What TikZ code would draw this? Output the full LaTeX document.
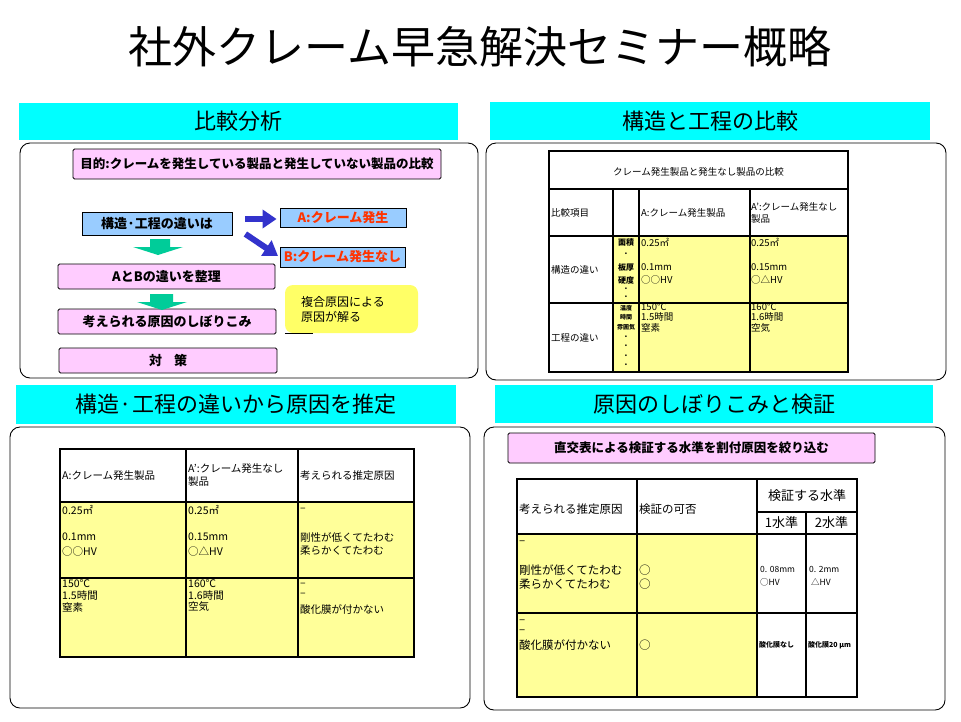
\documentclass[tikz,border=0pt]{standalone}
\usepackage{fontspec}
\setmainfont{Noto Sans CJK JP}
\usetikzlibrary{arrows.meta}
\definecolor{hdrcyan}{HTML}{00FFFF}
\definecolor{boxpink}{HTML}{FFCCFF}
\definecolor{boxblue}{HTML}{99CCFF}
\definecolor{blockgreen}{HTML}{00CC99}
\definecolor{arrowblue}{HTML}{3333CC}
\definecolor{redtext}{HTML}{FF3300}
\definecolor{tyellow}{HTML}{FFFF99}
\definecolor{cyellow}{HTML}{FFFF66}
\begin{document}
\begin{tikzpicture}[x=1pt,y=-1pt,
  hdr/.style={fill=hdrcyan, draw=none, inner sep=0, font=\fontsize{22}{24}\selectfont},
  panel/.style={draw=black, line width=0.9pt, rounded corners=10pt, inner sep=0},
  pinkbox/.style={draw=black, line width=0.8pt, fill=boxpink, rounded corners=1.5pt, inner sep=0, font=\bfseries\fontsize{12.5}{14}\selectfont},
  bluebox/.style={draw=black, line width=0.8pt, fill=boxblue, inner sep=0, font=\bfseries\fontsize{13}{15}\selectfont},
  greenarrow/.style={fill=blockgreen, draw=none},
  bluearrow/.style={draw=arrowblue, line width=6pt, -{Triangle[width=18pt,length=14pt]}},
  tline/.style={line width=1.5pt},
  tthick/.style={line width=2.2pt},
  celA/.style={anchor=west, inner sep=0, font=\fontsize{9.5}{11}\selectfont},
  celS/.style={anchor=center, inner sep=0, font=\bfseries\fontsize{8}{9}\selectfont},
  celT/.style={anchor=center, inner sep=0, font=\bfseries\fontsize{6}{7}\selectfont},
  celB/.style={anchor=west, inner sep=0, font=\fontsize{10.5}{12}\selectfont},
  celC/.style={anchor=west, inner sep=0, font=\fontsize{11.5}{13}\selectfont},
  celN/.style={anchor=west, inner sep=0, font=\fontsize{8.5}{10}\selectfont},
  celM/.style={anchor=west, inner sep=0, font=\bfseries\fontsize{7}{8}\selectfont}
]
\useasboundingbox (0,0) rectangle (961,721);
\fill[white] (0,0) rectangle (961,721);

% title
\node[inner sep=0, font=\fontsize{44}{48}\selectfont] (title) at (480,47) {社外クレーム早急解決セミナー概略};

% panels
\node[panel, minimum width=458pt, minimum height=235pt] (p1) at (249,260.5) {};
\node[panel, minimum width=460pt, minimum height=237pt] (p2) at (716,261.5) {};
\node[panel, minimum width=460pt, minimum height=281pt] (p3) at (240,567.5) {};
\node[panel, minimum width=461pt, minimum height=283pt] (p4) at (714.5,568.5) {};

% headers
\node[hdr, minimum width=439pt, minimum height=37pt] (h1) at (238.5,121.5) {比較分析};
\node[hdr, minimum width=440pt, minimum height=38pt] (h2) at (710,121) {構造と工程の比較};
\node[hdr, minimum width=440pt, minimum height=39pt] (h3) at (236,404.5) {構造·工程の違いから原因を推定};
\node[hdr, minimum width=438pt, minimum height=38pt] (h4) at (714,404) {原因のしぼりこみと検証};

% ---------- top-left panel ----------
\node[pinkbox, minimum width=368pt, minimum height=30pt] (goal) at (257,164) {目的:クレームを発生している製品と発生していない製品の比較};
\node[bluebox, minimum width=150pt, minimum height=23pt] (kozo) at (157,223.5) {構造·工程の違いは};
\node[pinkbox, minimum width=217pt, minimum height=25pt, font=\bfseries\fontsize{13}{15}\selectfont] (ab) at (166.5,276.5) {AとBの違いを整理};
\node[pinkbox, minimum width=218pt, minimum height=25pt, font=\bfseries\fontsize{13}{15}\selectfont] (narrow) at (167,321.5) {考えられる原因のしぼりこみ};
\node[pinkbox, minimum width=218pt, minimum height=25pt, font=\bfseries\fontsize{13}{15}\selectfont] (taisaku) at (168,360.5) {対\hspace{12pt}策};
\node[bluebox, minimum width=126pt, minimum height=19pt, text=redtext] (boxA) at (343,217.5) {A:クレーム発生};
\node[bluebox, minimum width=125pt, minimum height=20pt, text=redtext] (boxB) at (342.5,257) {B:クレーム発生なし};
\node[fill=cyellow, rounded corners=8pt, minimum width=133pt, minimum height=48pt, inner sep=0] (callout) at (351.5,309) {};
\node[anchor=west, inner sep=0, align=left, font=\fontsize{12}{15}\selectfont] (callouttxt) at (301,309.5) {複合原因による\\原因が解る};
\draw[line width=0.8pt] (callout.south west) -- ++(28,0);

% green block arrows
\fill[greenarrow] (150,239) -- (170,239) -- (170,247) -- (183,247) -- (158,255) -- (133,247) -- (150,247) -- cycle;
\fill[greenarrow] (150,294) -- (173,294) -- (173,302) -- (187,302) -- (162,310) -- (137,302) -- (150,302) -- cycle;

% blue arrows
\draw[bluearrow, shorten >=3pt] ([xshift=13pt,yshift=4.5pt]kozo.east) -- (boxA.west |- 0,219);
\draw[bluearrow, shorten >=2pt] ([xshift=13pt,yshift=-10.5pt]kozo.east) -- (boxB.west);

% ---------- top-right table ----------
\fill[tyellow] (613,236) rectangle (848,372);
\draw[tline] (549,151) rectangle (848,372);
\draw[tline] (549,189) -- (848,189);
\draw[tline] (549,236) -- (848,236);
\draw[tthick] (549,303) -- (848,303);
\draw[tline] (613,189) -- (613,372);
\draw[tline] (639,189) -- (639,372);
\draw[tthick] (750,189) -- (750,372);

\node[inner sep=0, font=\fontsize{9.5}{11}\selectfont] (r0) at (698.5,172) {クレーム発生製品と発生なし製品の比較};
\node[celA] (r1) at (551,213) {比較項目};
\node[celA] (r2) at (641,213) {A:クレーム発生製品};
\node[celA] (r3) at (751,207) {A’:クレーム発生なし};
\node[celA] (r4) at (751,219) {製品};
\node[celA] (r5) at (551,270) {構造の違い};
\node[celS] (r6) at (626,242) {面積};
\node[celS] (r7) at (626,254) {.};
\node[celS] (r8) at (626,267) {板厚};
\node[celS] (r9) at (626,280) {硬度};
\node[celS] (r10) at (626,289) {.};
\node[celS] (r11) at (626,297) {.};
\node[celA] (r12) at (641,242) {0.25㎡};
\node[celA] (r13) at (641,267) {0.1mm};
\node[celA] (r14) at (641,280) {○○HV};
\node[celA] (r15) at (751,242) {0.25㎡};
\node[celA] (r16) at (751,267) {0.15mm};
\node[celA] (r17) at (751,280) {○△HV};
\node[celA] (r18) at (551,338) {工程の違い};
\node[celT] (r19) at (626,308) {温度};
\node[celT] (r20) at (626,317) {時間};
\node[celT] (r21) at (626,327) {雰囲気};
\node[celS] (r22) at (626,337) {.};
\node[celS] (r23) at (626,346) {.};
\node[celS] (r24) at (626,356) {.};
\node[celS] (r25) at (626,365) {.};
\node[celA] (r26) at (641,307) {150℃};
\node[celA] (r27) at (641,317) {1.5時間};
\node[celA] (r28) at (641,328) {窒素};
\node[celA] (r29) at (751,307) {160℃};
\node[celA] (r30) at (751,317) {1.6時間};
\node[celA] (r31) at (751,328) {空気};

% ---------- bottom-left table ----------
\fill[tyellow] (60,502) rectangle (414,657);
\draw[tthick] (60,449) rectangle (414,657);
\draw[tthick] (60,502) -- (414,502);
\draw[tline] (60,578) -- (414,578);
\draw[tline] (186,449) -- (186,657);
\draw[tline] (298,449) -- (298,657);

\node[celB] (s1) at (62,476) {A:クレーム発生製品};
\node[celB] (s2) at (188,469) {A’:クレーム発生なし};
\node[celB] (s3) at (188,482) {製品};
\node[celB] (s4) at (300,476) {考えられる推定原因};
\node[celB] (s5) at (62,510) {0.25㎡};
\node[celB] (s6) at (62,537) {0.1mm};
\node[celB] (s7) at (62,551) {○○HV};
\node[celB] (s8) at (188,510) {0.25㎡};
\node[celB] (s9) at (188,537) {0.15mm};
\node[celB] (s10) at (188,551) {○△HV};
\node[celB] (s11) at (300,510) {–};
\node[celB] (s12) at (300,537) {剛性が低くてたわむ};
\node[celB] (s13) at (300,551) {柔らかくてたわむ};
\node[celB] (s14) at (62,584) {150℃};
\node[celB] (s15) at (62,595) {1.5時間};
\node[celB] (s16) at (62,607) {窒素};
\node[celB] (s17) at (188,584) {160℃};
\node[celB] (s18) at (188,595) {1.6時間};
\node[celB] (s19) at (188,607) {空気};
\node[celB] (s20) at (300,585) {–};
\node[celB] (s21) at (300,595) {–};
\node[celB] (s22) at (300,609) {酸化膜が付かない};

% ---------- bottom-right ----------
\node[pinkbox, minimum width=367pt, minimum height=30pt] (ortho) at (691.5,448) {直交表による検証する水準を割付原因を絞り込む};
\fill[tyellow] (517,534) rectangle (757,697);
\draw[tthick] (517,479) rectangle (857,697);
\draw[tthick] (757,512) -- (857,512);
\draw[tthick] (517,534) -- (857,534);
\draw[tthick] (517,613) -- (857,613);
\draw[tthick] (637,479) -- (637,697);
\draw[tthick] (757,479) -- (757,697);
\draw[tthick] (806,512) -- (806,697);

\node[celC] (v1) at (519,509) {考えられる推定原因};
\node[celC] (v2) at (639,509) {検証の可否};
\node[inner sep=0, font=\fontsize{13}{15}\selectfont] (v3) at (807,496) {検証する水準};
\node[inner sep=0, font=\fontsize{13}{15}\selectfont] (v4) at (781.5,523) {1水準};
\node[inner sep=0, font=\fontsize{13}{15}\selectfont] (v5) at (831.5,523) {2水準};
\node[celC] (v6) at (519,543) {–};
\node[celC] (v7) at (519,570) {剛性が低くてたわむ};
\node[celC] (v8) at (519,584) {柔らかくてたわむ};
\node[celC] (v9) at (639,570) {○};
\node[celC] (v10) at (639,584) {○};
\node[celN] (v11) at (760,569) {0. 08mm};
\node[celN] (v12) at (760,582) {○HV};
\node[celN] (v13) at (809,569) {0. 2mm};
\node[celN] (v14) at (811,582) {△HV};
\node[celC] (v15) at (519,622) {–};
\node[celC] (v16) at (519,632) {–};
\node[celC] (v17) at (519,645) {酸化膜が付かない};
\node[celC] (v18) at (639,645) {○};
\node[celM] (v19) at (759,645) {酸化膜なし};
\node[celM] (v20) at (808,645) {酸化膜20 μm};
\end{tikzpicture}
\end{document}
